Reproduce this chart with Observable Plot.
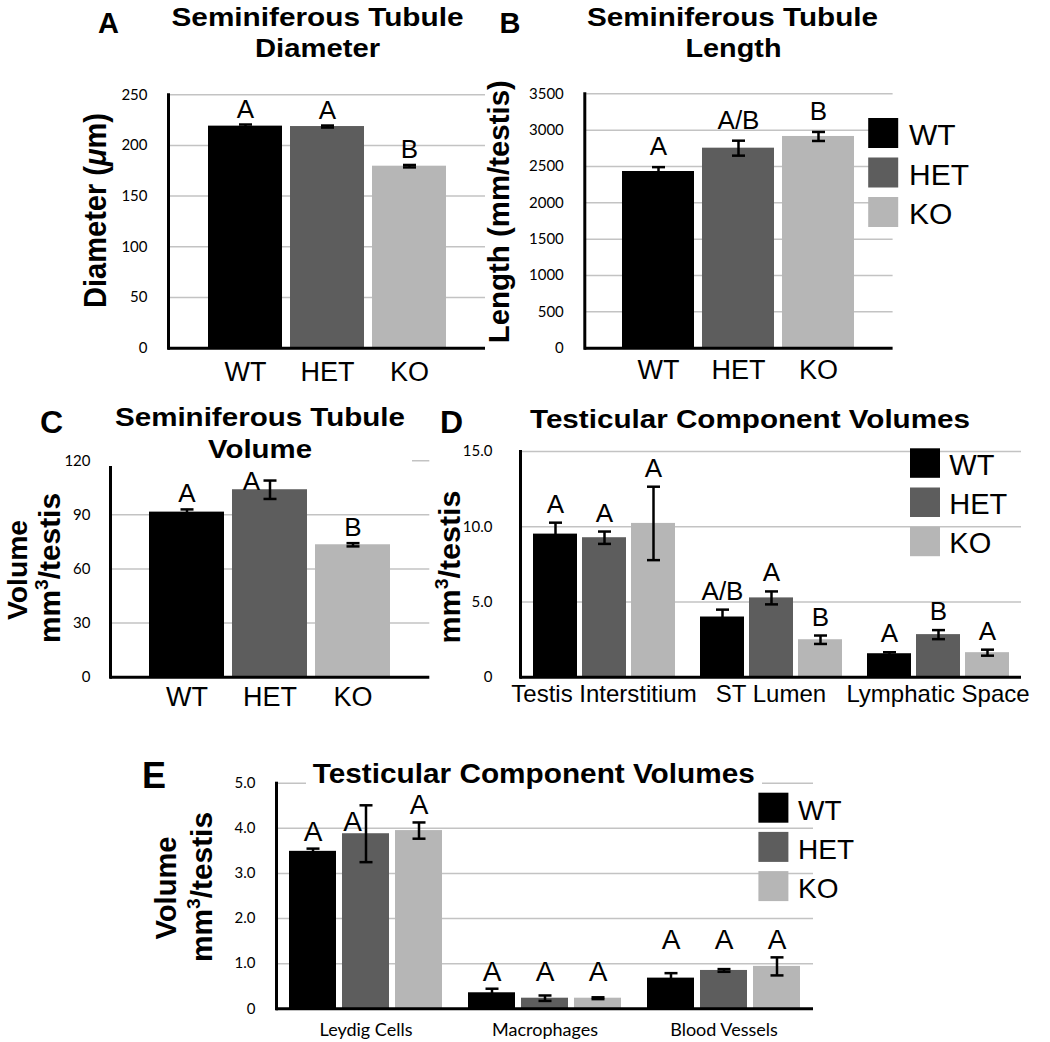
<!DOCTYPE html>
<html>
<head>
<meta charset="utf-8">
<script src="https://cdn.jsdelivr.net/npm/d3@7"></script>
<script src="https://cdn.jsdelivr.net/npm/@observablehq/plot@0.6"></script>
<style>
  html, body { margin: 0; padding: 0; background: #fff; }
  #fig { position: relative; width: 1050px; height: 1042px; overflow: hidden; background: #fff; }
  #fig svg { position: absolute; }
</style>
</head>
<body>
<div id="fig"></div>
<script>
// ---------------- DATA ----------------
const genotypes = ["WT", "HET", "KO"];
const genotypeColors = ["#000000", "#5d5d5d", "#b6b6b6"];

// A: Seminiferous tubule diameter (µm)
const diameterMean = [219, 218.6, 179.5];
const diameterSem = [1.6, 1.0, 1.2];
const diameterLetters = ["A", "A", "B"];
const diameterTicks = [0, 50, 100, 150, 200, 250];

// B: Seminiferous tubule length (mm/testis)
const lengthMean = [2431, 2752, 2913];
const lengthSem = [60, 103, 62];
const lengthLetters = ["A", "A/B", "B"];
const lengthTicks = [0, 500, 1000, 1500, 2000, 2500, 3000, 3500];

// C: Seminiferous tubule volume (mm3/testis)
const volumeMean = [91.5, 103.9, 73.4];
const volumeSem = [1.5, 5.1, 0.9];
const volumeLetters = ["A", "A", "B"];
const volumeTicks = [0, 30, 60, 90, 120];

// D: Testicular component volumes (rows = groups, cols = WT, HET, KO)
const componentGroupsD = ["Testis Interstitium", "ST Lumen", "Lymphatic Space"];
const componentMeansD = [[9.51, 9.27, 10.22], [4.00, 5.27, 2.49], [1.56, 2.83, 1.63]];
const componentSemD = [[0.76, 0.41, 2.44], [0.49, 0.43, 0.28], [0.10, 0.30, 0.20]];
const componentLettersD = [["A", "A", "A"], ["A/B", "A", "B"], ["A", "B", "A"]];
const componentTicksD = [0, 5, 10, 15];

// E: Testicular component volumes
const componentGroupsE = ["Leydig Cells", "Macrophages", "Blood Vessels"];
const componentMeansE = [[3.49, 3.88, 3.95], [0.355, 0.235, 0.235], [0.68, 0.85, 0.94]];
const componentSemE = [[0.06, 0.63, 0.18], [0.09, 0.06, 0.02], [0.11, 0.03, 0.20]];
const componentLettersE = [["A", "A", "A"], ["A", "A", "A"], ["A", "A", "A"]];
const componentTicksE = [0, 1, 2, 3, 4, 5];

// Text
const titleA = ["Seminiferous Tubule", "Diameter"];
const titleB = ["Seminiferous Tubule", "Length"];
const titleC = ["Seminiferous Tubule", "Volume"];
const titleD = "Testicular Component Volumes";
const titleE = "Testicular Component Volumes";
const yLabelA = ["Diameter (", {italic: "μ"}, "m)"];
const yLabelB = ["Length (mm/testis)"];
const yLabelVolume = ["Volume"];
const yLabelMm3 = ["mm", {sup: "3"}, "/testis"];

// ---------------- STYLE ----------------
const SANS = "'Liberation Sans', Arial, Helvetica, sans-serif";
const TICKFONT = "Lato, 'Open Sans', sans-serif";
const GRID = "#c3c3c3";
const fmtInt = d => String(d);
const fmt1 = d => d === 0 ? "0" : d.toFixed(1);
const capSymbol = {
  draw(ctx, size) { const r = Math.sqrt(size / Math.PI); ctx.moveTo(-r, 0); ctx.lineTo(r, 0); }
};
const fig = document.getElementById("fig");

function place(svg, left, top) {
  svg.style.left = left + "px";
  svg.style.top = top + "px";
  fig.appendChild(svg);
}

function simplePanel(cfg) {
  const rows = genotypes.map((g, i) => ({
    g, v: cfg.means[i], lo: cfg.means[i] - cfg.sems[i], hi: cfg.means[i] + cfg.sems[i],
    t: cfg.letters[i], side: !!(cfg.side && cfg.side.g === g)
  }));
  const caps = rows.flatMap(d => [{g: d.g, y: d.lo}, {g: d.g, y: d.hi}]);
  const b = cfg.box;
  const svg = Plot.plot({
    width: b.width, height: b.height,
    marginLeft: b.x0 - b.left, marginRight: b.left + b.width - b.x1,
    marginTop: b.y0 - b.top, marginBottom: b.top + b.height - b.y1,
    style: {background: "transparent", overflow: "visible", fontFamily: SANS, color: "#000"},
    x: {domain: genotypes, paddingInner: cfg.padIn, paddingOuter: cfg.padOut},
    y: {domain: [0, cfg.yMax]},
    color: {domain: genotypes, range: genotypeColors},
    marks: [
      Plot.ruleY(cfg.ticks.filter(t => t > 0), {stroke: GRID, strokeWidth: 1.5}),
      Plot.barY(rows, {x: "g", y: "v", fill: "g"}),
      Plot.ruleX(rows, {x: "g", y1: "lo", y2: "hi", stroke: "#000", strokeWidth: 2.5}),
      Plot.dot(caps, {x: "g", y: "y", r: 6.5, symbol: capSymbol, fill: "none", stroke: "#000", strokeWidth: 2.5}),
      Plot.text(rows.filter(d => !d.side), {x: "g", y: "hi", text: "t", lineAnchor: "bottom", dy: cfg.letterDy, fontSize: cfg.letterSize, fontFamily: SANS, fill: "#000"}),
      Plot.text(rows.filter(d => d.side), {x: "g", y: "v", text: "t", lineAnchor: "bottom", dx: cfg.side ? cfg.side.dx : 0, dy: cfg.side ? cfg.side.dy : 0, fontSize: cfg.letterSize, fontFamily: SANS, fill: "#000"}),
      Plot.axisX({tickSize: 0, tickPadding: cfg.xPad, fontSize: cfg.xSize, fontFamily: SANS, label: null}),
      Plot.axisY({ticks: cfg.ticks, tickSize: 0, tickPadding: cfg.yPad, fontSize: 15, fontFamily: TICKFONT, tickFormat: cfg.tickFormat, label: null}),
      Plot.ruleY([0], {stroke: "#000", strokeWidth: 3}),
      Plot.frame({anchor: "left", stroke: "#000", strokeWidth: 3})
    ]
  });
  place(svg, b.left, b.top);
}

function groupedPanel(cfg) {
  const rows = [];
  cfg.groups.forEach((grp, gi) => {
    const groupMax = d3.max(genotypes, (g, i) => cfg.means[gi][i] + cfg.sems[gi][i]);
    const aligned = (cfg.alignGroups || []).includes(grp);
    genotypes.forEach((g, i) => {
      const v = cfg.means[gi][i], e = cfg.sems[gi][i];
      rows.push({grp, g, v, lo: v - e, hi: v + e, ly: aligned ? groupMax : v + e,
        t: cfg.letters[gi][i], side: !!(cfg.side && cfg.side.grp === grp && cfg.side.g === g)});
    });
  });
  const caps = rows.flatMap(d => [{grp: d.grp, g: d.g, y: d.lo}, {grp: d.grp, g: d.g, y: d.hi}]);
  const b = cfg.box;
  const svg = Plot.plot({
    width: b.width, height: b.height,
    marginLeft: b.x0 - b.left, marginRight: b.left + b.width - b.x1,
    marginTop: b.y0 - b.top, marginBottom: b.top + b.height - b.y1,
    style: {background: "transparent", overflow: "visible", fontFamily: SANS, color: "#000"},
    fx: {domain: cfg.groups, padding: 0},
    x: {domain: genotypes, paddingInner: cfg.padIn, paddingOuter: cfg.padOut, axis: null},
    y: {domain: [0, cfg.yMax]},
    color: {domain: genotypes, range: genotypeColors},
    marks: [
      Plot.ruleY(cfg.ticks.filter(t => t > 0), {stroke: GRID, strokeWidth: 1.5}),
      Plot.barY(rows, {fx: "grp", x: "g", y: "v", fill: "g"}),
      Plot.ruleX(rows, {fx: "grp", x: "g", y1: "lo", y2: "hi", stroke: "#000", strokeWidth: 2.5}),
      Plot.dot(caps, {fx: "grp", x: "g", y: "y", r: 6.5, symbol: capSymbol, fill: "none", stroke: "#000", strokeWidth: 2.5}),
      Plot.text(rows.filter(d => !d.side), {fx: "grp", x: "g", y: "ly", text: "t", lineAnchor: "bottom", dy: cfg.letterDy, fontSize: cfg.letterSize, fontFamily: SANS, fill: "#000"}),
      Plot.text(rows.filter(d => d.side), {fx: "grp", x: "g", y: "v", text: "t", lineAnchor: "bottom", dx: cfg.side ? cfg.side.dx : 0, dy: cfg.side ? cfg.side.dy : 0, fontSize: cfg.letterSize, fontFamily: SANS, fill: "#000"}),
      Plot.axisFx({anchor: "bottom", tickSize: 0, tickPadding: cfg.xPad, fontSize: cfg.xSize, fontFamily: cfg.xFamily, label: null}),
      Plot.axisY({ticks: cfg.ticks, tickSize: 0, tickPadding: cfg.yPad, fontSize: 15, fontFamily: TICKFONT, tickFormat: cfg.tickFormat, label: null}),
      Plot.ruleY([0], {stroke: "#000", strokeWidth: 3}),
      Plot.frame({anchor: "left", facetAnchor: "left", stroke: "#000", strokeWidth: 3})
    ]
  });
  place(svg, b.left, b.top);
}

// ---------------- PANELS ----------------
simplePanel({
  means: diameterMean, sems: diameterSem, letters: diameterLetters, ticks: diameterTicks, yMax: 250, tickFormat: fmtInt,
  box: {left: 0, top: 60, width: 500, height: 330, x0: 168, x1: 485, y0: 94.2, y1: 347.7},
  padIn: 0.103, padOut: 0.473, yPad: 21, xPad: 14, xSize: 27, letterSize: 26, letterDy: -7
});
simplePanel({
  means: lengthMean, sems: lengthSem, letters: lengthLetters, ticks: lengthTicks, yMax: 3500, tickFormat: fmtInt,
  box: {left: 520, top: 60, width: 390, height: 330, x0: 584.3, x1: 892.6, y0: 93.3, y1: 347.7},
  padIn: 0.1, padOut: 0.461, yPad: 21, xPad: 12, xSize: 27, letterSize: 26, letterDy: -12
});
simplePanel({
  means: volumeMean, sems: volumeSem, letters: volumeLetters, ticks: volumeTicks, yMax: 120, tickFormat: fmtInt,
  box: {left: 0, top: 440, width: 440, height: 280, x0: 110, x1: 429.3, y0: 460.2, y1: 676.7},
  padIn: 0.1, padOut: 0.463, yPad: 20, xPad: 10, xSize: 27, letterSize: 26, letterDy: -7,
  side: {g: "HET", dx: -18.5, dy: 0}
});
groupedPanel({
  groups: componentGroupsD, means: componentMeansD, sems: componentSemD, letters: componentLettersD,
  ticks: componentTicksD, yMax: 15, tickFormat: fmt1,
  box: {left: 460, top: 440, width: 590, height: 280, x0: 520, x1: 1021, y0: 451, y1: 676.7},
  padIn: 0.111, padOut: 0.242, yPad: 28, xPad: 8, xSize: 24, xFamily: SANS, letterSize: 26, letterDy: -10
});
groupedPanel({
  groups: componentGroupsE, means: componentMeansE, sems: componentSemE, letters: componentLettersE,
  ticks: componentTicksE, yMax: 5, tickFormat: fmt1,
  box: {left: 200, top: 760, width: 640, height: 282, x0: 275, x1: 814, y0: 782.7, y1: 1008.3},
  padIn: 0.107, padOut: 0.242, yPad: 21, xPad: 14, xSize: 18, xFamily: TICKFONT, letterSize: 28, letterDy: -8,
  side: {grp: "Leydig Cells", g: "HET", dx: -13.5, dy: -3}, alignGroups: ["Macrophages", "Blood Vessels"]
});

// ---------------- OVERLAY: titles, panel letters, axis titles, legends ----------------
const ov = d3.select(fig).append("svg")
  .attr("width", 1050).attr("height", 1042)
  .style("left", "0px").style("top", "0px").style("pointer-events", "none").style("overflow", "visible");

function whiteBox(x, y, w, h) {
  ov.append("rect").attr("x", x).attr("y", y).attr("width", w).attr("height", h).attr("fill", "#fff");
}
function label(x, y, content, o) {
  const size = o.size, bold = o.bold !== false;
  const g = ov.append("g").attr("transform", `translate(${x},${y})` + (o.rotate ? " rotate(-90)" : ""));
  const t = g.append("text")
    .attr("text-anchor", o.anchor || "middle")
    .attr("font-family", o.family || SANS)
    .attr("font-size", size)
    .attr("font-weight", bold ? "bold" : "normal")
    .attr("fill", "#000");
  let pendingDy = null;
  for (const p of [].concat(content)) {
    let s;
    if (typeof p === "string") s = t.append("tspan").text(p);
    else if (p.italic) s = t.append("tspan").attr("font-style", "italic").text(p.italic);
    else if (p.sup) {
      const shift = size * 0.42;
      t.append("tspan").attr("font-size", size * 0.64).attr("dy", -shift).text(p.sup);
      pendingDy = shift;
      continue;
    }
    if (pendingDy !== null) { s.attr("dy", pendingDy); pendingDy = null; }
  }
  if (o.length) t.attr("textLength", o.length).attr("lengthAdjust", "spacingAndGlyphs");
}
function legend(x, y0, step, w, h, textX, size) {
  genotypes.forEach((g, i) => {
    ov.append("rect").attr("x", x).attr("y", y0 + i * step).attr("width", w).attr("height", h).attr("fill", genotypeColors[i]);
    label(textX, y0 + i * step + h - 3, g, {size, bold: false, anchor: "start"});
  });
}

// Title boxes (they hide the top gridline behind the title, as in the original)
whiteBox(109, 398, 303, 68);
whiteBox(306, 755, 456, 34);

// Titles
label(317.5, 26, titleA[0], {size: 26, length: 292});
label(317.5, 57, titleA[1], {size: 26, length: 125});
label(732.5, 26, titleB[0], {size: 26, length: 291});
label(733.5, 57, titleB[1], {size: 26, length: 96});
label(260, 426, titleC[0], {size: 26, length: 290});
label(260, 458, titleC[1], {size: 26, length: 104});
label(750, 428.3, titleD, {size: 26, length: 440});
label(533.8, 783.3, titleE, {size: 28, length: 442});

// Panel letters
label(108.5, 33, "A", {size: 29});
label(510, 33, "B", {size: 29});
label(51.5, 433, "C", {size: 32});
label(451.5, 433, "D", {size: 32});
label(154, 788, "E", {size: 36});

// Y-axis titles
label(106, 210.5, yLabelA, {size: 32, rotate: true, length: 195});
label(509, 211.7, yLabelB, {size: 30, rotate: true, length: 263});
label(27, 570, yLabelVolume, {size: 28, rotate: true, length: 100});
label(60, 568, yLabelMm3, {size: 29, rotate: true, length: 150});
label(460, 567, yLabelMm3, {size: 29, rotate: true, length: 153});
label(176, 888, yLabelVolume, {size: 29, rotate: true, length: 103});
label(212, 887, yLabelMm3, {size: 29, rotate: true, length: 150});

// Legends
legend(868.2, 118, 39.5, 30, 30, 909, 30);
legend(910, 448.3, 39.2, 30, 29.5, 949.3, 29);
legend(758.4, 792.7, 39.2, 30, 30, 798, 28);
</script>
</body>
</html>
